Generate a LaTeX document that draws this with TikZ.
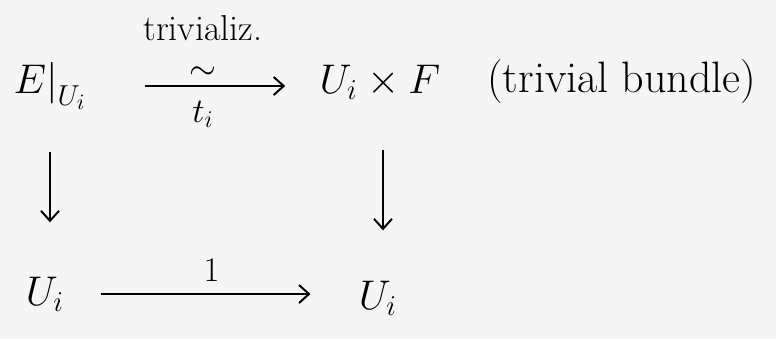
\documentclass[tikz,border=0pt]{standalone}
\usetikzlibrary{arrows.meta}
\tikzset{
  obj/.style={font=\fontsize{22}{26}\selectfont, inner sep=1pt},
  lbl/.style={font=\fontsize{18}{21}\selectfont, inner sep=1pt},
  arr/.style={-{Straight Barb[length=5pt,width=9pt]}, line width=1pt},
}
\begin{document}
\begin{tikzpicture}[x=0.5pt,y=-0.5pt]
        % paper
        \fill[black!4] (0,0) rectangle (776,339);
        \useasboundingbox (0,0) rectangle (776,339);

        % objects of the square
        \node[obj] (El) at (50,86) {$E\big|_{U_i}$};
        \node[obj] (UF) at (380,82) {$U_i\times F$};
        \node[obj, anchor=west] (tb) at (485,82) {(trivial bundle)};
        \node[obj] (Ul) at (45,294) {$U_i$};
        \node[obj] (Ur) at (378,298) {$U_i$};

        % top map
        \draw[arr, shorten <=28pt, shorten >=16pt] (El.east) -- (El.east -| UF.west)
            node[midway, above=2pt, lbl] (sim) {$\sim$}
            node[midway, below=6pt, lbl] (ti) {$t_i$};
        \node[lbl, above=10pt] (triv) at (sim.north) {trivializ.};

        % bottom map
        \draw[arr, shorten <=17pt, shorten >=23pt] (Ul.east) -- (Ul.east -| Ur.west)
            node[midway, above=5pt, lbl] (one) {$1$};

        % projections
        \draw[arr, shorten <=20pt, shorten >=26pt] (El.south -| 50,0) -- (Ul.north -| 50,0);
        \draw[arr, shorten <=24pt, shorten >=24pt] (UF.south -| 383,0) -- (Ur.north -| 383,0);
\end{tikzpicture}
\end{document}
